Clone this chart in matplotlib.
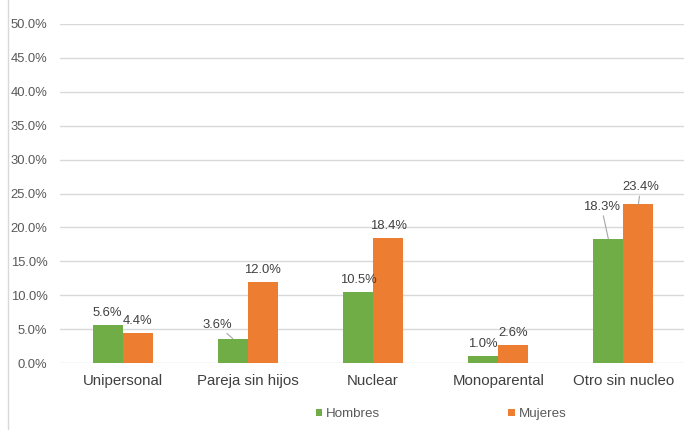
import matplotlib
matplotlib.use('Agg')
import matplotlib.pyplot as plt
import numpy as np

# Data
categories = ['Unipersonal', 'Pareja sin hijos', 'Nuclear', 'Monoparental', 'Otro sin nucleo']
hombres = [5.6, 3.6, 10.5, 1.0, 18.3]
mujeres = [4.4, 12.0, 18.4, 2.6, 23.4]

green = '#70AD47'
orange = '#ED7D31'
text_col = '#404040'
tick_col = '#595959'

plt.rcParams['font.family'] = ['Liberation Sans', 'DejaVu Sans']

fig = plt.figure(figsize=(6.84, 4.30), dpi=100)
ax = fig.add_axes([60 / 684, 67 / 430, 626 / 684, 339 / 430])

x = np.arange(len(categories))
w = 0.24
bh = ax.bar(x - w / 2, hombres, w, color=green, label='Hombres', zorder=3)
bm = ax.bar(x + w / 2, mujeres, w, color=orange, label='Mujeres', zorder=3)

ax.set_xlim(-0.5, len(categories) - 0.5)
ax.set_ylim(0, 50)
ax.set_yticks(np.arange(0, 50.1, 5))
ax.set_yticklabels([f'{v:.1f}%' for v in np.arange(0, 50.1, 5)])
ax.set_xticks(x)
ax.set_xticklabels(categories)
ax.tick_params(axis='y', length=0, pad=9, labelsize=9.4, labelcolor=tick_col)
ax.tick_params(axis='x', length=0, pad=8, labelsize=10.8, labelcolor=text_col)
ax.grid(axis='y', color='#d9d9d9', linewidth=1, zorder=0)
for s in ax.spines.values():
    s.set_visible(False)

# Data labels (offsets in points, a few moved with leader lines)
offsets_h = {1: (-11.5, 10), 4: (-5, 23)}
offsets_m = {4: (1.5, 12.2)}

def label_bars(vals, xs, offsets):
    for i, (xi, v) in enumerate(zip(xs, vals)):
        if i in offsets:
            ax.annotate(f'{v:.1f}%', xy=(xi, v), xytext=offsets[i],
                        textcoords='offset points', ha='center', va='center',
                        fontsize=9.4, color=text_col,
                        arrowprops=dict(arrowstyle='-', color='#a6a6a6', lw=0.8,
                                        shrinkA=0, shrinkB=0))
        else:
            ax.annotate(f'{v:.1f}%', xy=(xi, v), xytext=(0, 8.6),
                        textcoords='offset points', ha='center', va='center',
                        fontsize=9.4, color=text_col)

label_bars(hombres, x - w / 2, offsets_h)
label_bars(mujeres, x + w / 2, offsets_m)

leg = fig.legend(handles=[bh, bm], loc='center', bbox_to_anchor=(0.645, 0.037),
                 ncol=2, frameon=False, fontsize=9.6, handlelength=0.5,
                 handleheight=0.5, handletextpad=0.3, columnspacing=9.6)
for t in leg.get_texts():
    t.set_color(tick_col)

# left border line of the original chart frame
fig.add_artist(plt.Line2D([8 / 684, 8 / 684], [0, 1], transform=fig.transFigure,
                          color='#d9d9d9', lw=1))

fig.savefig('out.png', dpi=100, facecolor='white')
